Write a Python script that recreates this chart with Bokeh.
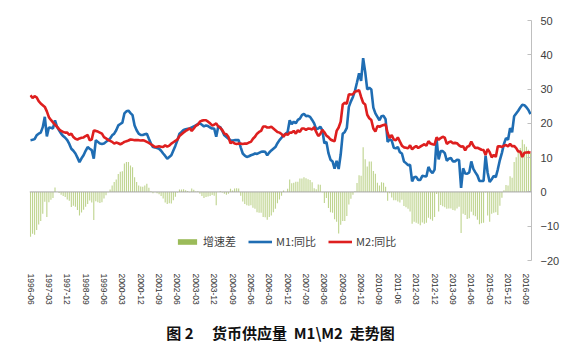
from bokeh.plotting import figure
from bokeh.models import Range1d, FixedTicker, Span, Legend, LegendItem, Title
from bokeh.embed import file_html
from bokeh.resources import INLINE

# M1 year-on-year growth (%), monthly, 1996-06 .. 2016-11
m1 = (
    [15.1, 15.2, 15.4, 16.5, 17.0, 17.3, 18.9]                                   # 1996 Jun-Dec
    + [21.9, 16.2, 18.8, 18.7, 18.5, 20.9, 19.0, 18.0, 17.0, 16.3, 15.8, 15.1]    # 1997
    + [14.0, 12.6, 12.0, 11.2, 10.0, 8.7, 9.8, 10.7, 12.0, 13.1, 12.6, 12.2]      # 1998
    + [9.7, 15.1, 14.6, 14.1, 14.0, 14.1, 14.6, 15.1, 15.6, 16.5, 17.0, 18.0]     # 1999
    + [19.4, 19.8, 20.2, 22.9, 23.5, 23.7, 23.0, 22.4, 19.4, 18.0, 17.0, 16.6]    # 2000
    + [16.6, 16.8, 17.0, 15.5, 14.1, 13.1, 13.0, 12.8, 12.6, 12.0, 11.2, 10.5]    # 2001
    + [9.7, 10.2, 10.7, 12.1, 13.5, 15.1, 17.0, 17.5, 18.1, 18.3, 18.4, 18.5]     # 2002
    + [18.8, 19.1, 19.4, 19.8, 20.0, 19.6, 19.1, 19.4, 19.2, 18.8, 18.5, 18.5]    # 2003
    + [16.1, 19.1, 18.9, 17.8, 16.5, 16.0, 15.5, 15.1, 15.0, 15.1, 15.1, 15.1]    # 2004
    + [13.0, 11.2, 10.6, 10.2, 10.4, 10.7, 10.9, 11.2, 11.1, 11.4, 11.7, 11.8]    # 2005
    + [11.7, 10.7, 11.5, 12.1, 12.6, 13.1, 14.2, 15.1, 15.8, 16.5, 17.0, 17.5]    # 2006
    + [20.9, 19.8, 20.5, 20.0, 21.0, 21.4, 22.4, 22.8, 22.1, 22.2, 21.9, 21.0]    # 2007
    + [20.0, 18.3, 18.5, 19.0, 18.0, 14.2, 14.6, 11.3, 9.4, 8.9, 6.8, 9.1]        # 2008
    + [6.7, 10.9, 17.0, 17.5, 18.7, 24.8, 26.4, 27.7, 29.5, 32.0, 34.6, 32.4]     # 2009
    + [39.0, 35.0, 29.9, 30.4, 29.9, 24.6, 22.9, 21.9, 20.9, 22.1, 22.2, 21.2]    # 2010
    + [14.6, 15.3, 15.0, 12.9, 12.7, 13.1, 11.6, 11.2, 8.9, 8.4, 7.8, 7.9]        # 2011
    + [3.1, 4.3, 4.4, 3.5, 3.5, 4.7, 4.6, 4.5, 7.3, 6.1, 5.5, 6.5]                # 2012
    + [15.3, 9.5, 11.9, 11.9, 11.3, 9.1, 9.7, 9.9, 8.9, 8.9, 9.4, 9.3]            # 2013
    + [1.2, 6.9, 5.4, 5.3, 5.7, 8.9, 6.7, 5.7, 4.8, 3.2, 3.2, 3.2]                # 2014
    + [10.6, 5.6, 2.9, 3.7, 4.7, 4.3, 6.6, 9.3, 11.4, 14.0, 15.7, 15.2]           # 2015
    + [18.6, 17.4, 22.1, 22.9, 23.7, 24.6, 25.4, 25.3, 24.7, 23.9, 22.7]          # 2016 Jan-Nov
)

# M2 year-on-year growth (%), monthly, 1996-06 .. 2016-11
m2 = (
    [28.2, 27.4, 27.9, 27.6, 26.5, 25.8, 25.3]
    + [24.8, 23.5, 21.8, 21.0, 20.3, 19.6, 19.0, 18.3, 17.8, 17.5, 17.3, 17.3]
    + [16.6, 17.0, 16.0, 15.5, 15.3, 15.6, 15.8, 15.9, 16.3, 16.6, 15.1, 15.3]
    + [17.9, 17.8, 17.6, 17.3, 17.0, 16.0, 15.6, 15.2, 14.9, 14.6, 14.1, 14.4]
    + [14.2, 13.9, 14.2, 14.6, 14.8, 15.0, 15.3, 15.2, 15.1, 15.1, 15.1, 15.0]
    + [15.1, 14.9, 14.6, 14.3, 13.9, 13.5, 13.1, 13.2, 13.3, 13.2, 13.1, 13.6]
    + [13.2, 13.5, 14.1, 14.5, 14.9, 15.3, 16.3, 16.8, 17.3, 17.8, 18.1, 18.6]
    + [17.8, 18.5, 19.3, 19.6, 20.5, 20.8, 20.9, 20.9, 20.5, 20.0, 19.4, 19.6]
    + [20.0, 19.1, 18.7, 18.0, 17.0, 16.8, 16.0, 14.2, 14.6, 14.1, 14.0, 14.1]
    + [14.1, 14.0, 14.1, 14.1, 14.4, 14.6, 15.5, 16.1, 17.0, 17.5, 17.8, 19.1]
    + [19.1, 18.8, 18.8, 19.0, 18.5, 18.0, 17.5, 17.3, 16.9, 16.1, 17.0, 16.6]
    + [17.3, 17.3, 17.8, 17.0, 18.0, 17.5, 18.5, 18.5, 18.1, 18.5, 18.4, 18.2]
    + [18.9, 17.5, 16.3, 16.9, 18.1, 17.4, 16.4, 16.0, 15.3, 15.0, 14.8, 17.8]
    + [18.8, 20.5, 25.5, 26.0, 25.7, 28.5, 28.4, 28.5, 29.3, 29.4, 29.7, 27.7]
    + [26.0, 25.5, 22.5, 21.5, 21.0, 18.5, 17.6, 19.2, 19.0, 19.3, 19.5, 19.7]
    + [17.2, 15.7, 16.6, 15.3, 15.1, 15.9, 14.7, 13.5, 13.0, 12.9, 12.7, 13.6]
    + [12.4, 13.0, 13.4, 12.8, 13.2, 13.6, 13.9, 13.5, 14.8, 14.1, 13.9, 13.8]
    + [15.9, 15.2, 15.7, 16.1, 15.8, 14.0, 14.5, 14.7, 14.2, 14.3, 14.2, 13.6]
    + [13.2, 13.3, 12.1, 13.2, 13.4, 14.7, 13.5, 12.8, 12.9, 12.6, 12.3, 12.2]
    + [10.8, 12.5, 11.6, 10.1, 10.8, 10.2, 13.3, 13.3, 13.1, 13.5, 13.7, 13.3]
    + [14.0, 13.3, 13.4, 12.8, 11.8, 11.8, 10.2, 11.4, 11.5, 11.6, 11.4]
)

tick_labels = ["1996-06", "1997-03", "1997-12", "1998-09", "1999-06", "2000-03",
               "2000-12", "2001-09", "2002-06", "2003-03", "2003-12", "2004-09",
               "2005-06", "2006-03", "2006-12", "2007-09", "2008-06", "2009-03",
               "2009-12", "2010-09", "2011-06", "2012-03", "2012-12", "2013-09",
               "2014-06", "2015-03", "2015-12", "2016-09"]
y_ticks = [-20, -10, 0, 10, 20, 30, 40, 50]

series_names = ["增速差", "M1:同比", "M2:同比"]
title_text = "图 2\u3000\u00a0货币供应量\u00a0\u00a0M1\\M2\u00a0\u00a0走势图"

n = len(m1)
months = [f"{1996 + (5 + i) // 12}-{(5 + i) % 12 + 1:02d}" for i in range(n)]
xs = list(range(n))
spread = [round(a - b, 2) for a, b in zip(m1, m2)]   # 增速差 = M1 - M2
tick_pos = [months.index(t) for t in tick_labels]

p = figure(width=584, height=355, output_backend="svg", toolbar_location=None,
           x_range=Range1d(-0.5, n - 0.5), y_range=Range1d(-20, 50),
           y_axis_location="right",
           min_border_left=29, min_border_right=53, min_border_top=20, min_border_bottom=95,
           outline_line_color=None, background_fill_color="white", border_fill_color="white")
p.grid.visible = False

# legend swatch only (zero-height, outside the visible range)
legend_patch = p.vbar(x=[-10], top=[0], bottom=[0], width=0.5,
                      fill_color="#9bbb59", line_color=None)
p.vbar(x=xs, top=spread, bottom=0, width=0.55, fill_color="#bfd48f", line_color=None)
p.add_layout(Span(location=0, dimension="width", line_color="#a6a6a6", line_width=1))
r1 = p.line(xs, m1, line_color="#1f6db3", line_width=2.6)
r2 = p.line(xs, m2, line_color="#de1f1f", line_width=2.6)

legend = Legend(items=[LegendItem(label=series_names[0], renderers=[legend_patch]),
                       LegendItem(label=series_names[1], renderers=[r1]),
                       LegendItem(label=series_names[2], renderers=[r2])],
                orientation="horizontal", location=(146, 11),
                glyph_width=24, glyph_height=7, label_standoff=4, spacing=12,
                padding=0, margin=0, border_line_color=None, background_fill_alpha=0,
                label_text_font="Noto Sans CJK SC", label_text_font_size="11px",
                label_text_color="#404040", label_height=12)
p.add_layout(legend)

xa = p.xaxis[0]
xa.ticker = FixedTicker(ticks=tick_pos)
xa.major_label_overrides = {pos: lab for pos, lab in zip(tick_pos, tick_labels)}
xa.major_label_orientation = "vertical"
xa.axis_line_color = None
xa.major_tick_line_color = None
xa.minor_tick_line_color = None
xa.major_label_standoff = 7
xa.major_label_text_font = "Liberation Sans"
xa.major_label_text_font_size = "8.5px"
xa.major_label_text_color = "#333333"

ya = p.yaxis[0]
ya.ticker = FixedTicker(ticks=y_ticks)
ya.axis_line_color = "#bfbfbf"
ya.major_tick_line_color = "#bfbfbf"
ya.major_tick_in = 4
ya.major_tick_out = 0
ya.minor_tick_line_color = None
ya.major_label_standoff = 9
ya.major_label_text_font = "Liberation Sans"
ya.major_label_text_font_size = "11px"
ya.major_label_text_color = "#404040"

t = Title(text=title_text, align="center", offset=7, standoff=24,
          text_font="Noto Sans CJK SC", text_font_style="bold",
          text_font_size="15px", text_color="#111111")
p.add_layout(t, "below")

open("out.html", "w").write(file_html(p, INLINE))
